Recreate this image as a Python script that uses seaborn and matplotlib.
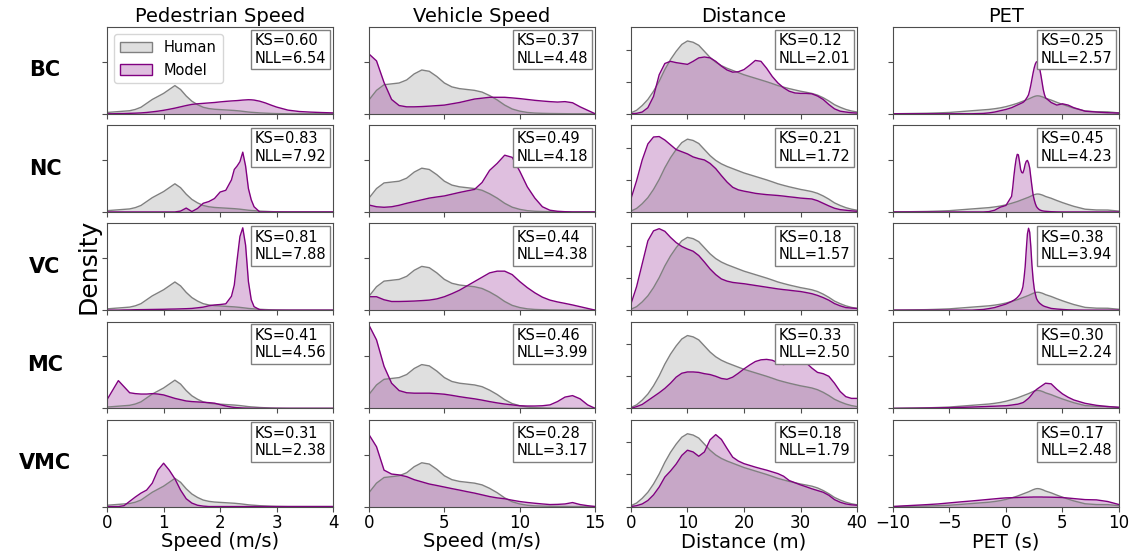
import numpy as np
import matplotlib
matplotlib.use("Agg")
import matplotlib.pyplot as plt
from matplotlib.patches import Patch
from matplotlib.colors import to_rgba
import seaborn as sns

# ---------------- data (densities, in units of the shared column y-range) -------------
ROWS = ["BC", "NC", "VC", "MC", "VMC"]
COLS = ["Pedestrian Speed", "Vehicle Speed", "Distance", "PET"]
XLABELS = ["Speed (m/s)", "Speed (m/s)", "Distance (m)", "PET (s)"]

KS = [[0.60, 0.37, 0.12, 0.25],
      [0.83, 0.49, 0.21, 0.45],
      [0.81, 0.44, 0.18, 0.38],
      [0.41, 0.46, 0.33, 0.30],
      [0.31, 0.28, 0.18, 0.17]]
NLL = [[6.54, 4.48, 2.01, 2.57],
       [7.92, 4.18, 1.72, 4.23],
       [7.88, 4.38, 1.57, 3.94],
       [4.56, 3.99, 2.50, 2.24],
       [2.38, 3.17, 1.79, 2.48]]

# --- Pedestrian speed ---
PED_X = [0.0, 0.1, 0.2, 0.3, 0.4, 0.5, 0.6, 0.7, 0.8, 0.9, 1.0, 1.1, 1.2, 1.3, 1.4, 1.5, 1.6, 1.7, 1.8, 1.9,
         2.0, 2.1, 2.2, 2.25, 2.3, 2.35, 2.4, 2.45, 2.5, 2.55, 2.6, 2.7, 2.8, 2.9, 3.0, 3.2, 3.4, 3.6, 3.8, 4.0]
PED_HUMAN = [0.015, 0.02, 0.025, 0.03, 0.035, 0.05, 0.075, 0.12, 0.165, 0.2, 0.235, 0.28, 0.325, 0.28, 0.205,
             0.145, 0.105, 0.075, 0.06, 0.052, 0.048, 0.044, 0.04, 0.038, 0.035, 0.032, 0.028, 0.024, 0.02,
             0.017, 0.015, 0.01, 0.007, 0.004, 0.002, 0.0, 0.0, 0.0, 0.0, 0.0]
PED_BC = [0.0, 0.0, 0.002, 0.003, 0.005, 0.007, 0.01, 0.015, 0.022, 0.03, 0.04, 0.052, 0.065, 0.08, 0.095,
          0.108, 0.115, 0.12, 0.125, 0.13, 0.137, 0.143, 0.148, 0.15, 0.152, 0.155, 0.158, 0.16, 0.162,
          0.161, 0.158, 0.145, 0.125, 0.1, 0.077, 0.042, 0.026, 0.019, 0.014, 0.01]
PED_NC = [0.0, 0.0, 0.0, 0.0, 0.0, 0.0, 0.0, 0.0, 0.0, 0.0, 0.0, 0.0, 0.0, 0.01, 0.045, 0.005, 0.04, 0.1,
          0.12, 0.155, 0.23, 0.25, 0.37, 0.49, 0.53, 0.58, 0.69, 0.53, 0.27, 0.14, 0.06, 0.0, 0.0, 0.0, 0.0,
          0.0, 0.0, 0.0, 0.0, 0.0]
PED_VC = [0.0, 0.0, 0.0, 0.002, 0.003, 0.005, 0.006, 0.007, 0.008, 0.009, 0.01, 0.012, 0.013, 0.015, 0.017,
          0.02, 0.027, 0.035, 0.05, 0.06, 0.065, 0.073, 0.16, 0.29, 0.58, 0.85, 0.95, 0.75, 0.33, 0.12, 0.04,
          0.005, 0.0, 0.0, 0.0, 0.0, 0.0, 0.0, 0.0, 0.0]
PED_MC = [0.1, 0.21, 0.32, 0.25, 0.18, 0.17, 0.165, 0.165, 0.17, 0.165, 0.155, 0.135, 0.115, 0.1, 0.085,
          0.078, 0.074, 0.07, 0.066, 0.06, 0.043, 0.027, 0.015, 0.011, 0.008, 0.006, 0.004, 0.003, 0.002,
          0.001, 0.001, 0.0, 0.0, 0.0, 0.0, 0.0, 0.0, 0.0, 0.0, 0.0]
PED_VMC = [0.0, 0.0, 0.0, 0.01, 0.06, 0.11, 0.155, 0.19, 0.27, 0.42, 0.5, 0.42, 0.32, 0.19, 0.09, 0.04,
           0.015, 0.005, 0.0, 0.0, 0.0, 0.0, 0.0, 0.0, 0.0, 0.0, 0.0, 0.0, 0.0, 0.0, 0.0, 0.0, 0.0, 0.0,
           0.0, 0.0, 0.0, 0.0, 0.0, 0.0]

# --- Vehicle speed ---
VEH_X = [0.0, 0.5, 1.0, 1.5, 2.0, 2.5, 3.0, 3.5, 4.0, 4.5, 5.0, 5.5, 6.0, 6.5, 7.0, 7.5, 8.0, 8.5, 9.0, 9.5,
         10.0, 10.5, 11.0, 11.5, 12.0, 12.5, 13.0, 13.5, 14.0, 14.5, 15.0]
VEH_HUMAN = [0.16, 0.27, 0.335, 0.345, 0.355, 0.39, 0.46, 0.505, 0.49, 0.43, 0.355, 0.31, 0.29, 0.28, 0.27,
             0.25, 0.21, 0.16, 0.1, 0.055, 0.03, 0.015, 0.008, 0.005, 0.003, 0.002, 0.001, 0.0, 0.0, 0.0, 0.0]
VEH_BC = [0.69, 0.61, 0.36, 0.165, 0.095, 0.08, 0.08, 0.083, 0.088, 0.094, 0.1, 0.115, 0.13, 0.15, 0.17,
          0.18, 0.19, 0.19, 0.19, 0.183, 0.175, 0.165, 0.155, 0.147, 0.14, 0.135, 0.14, 0.127, 0.08, 0.04, 0.0]
VEH_NC = [0.08, 0.06, 0.054, 0.06, 0.077, 0.1, 0.12, 0.14, 0.16, 0.173, 0.185, 0.205, 0.225, 0.243, 0.26,
          0.34, 0.48, 0.56, 0.655, 0.63, 0.47, 0.29, 0.16, 0.06, 0.02, 0.008, 0.003, 0.0, 0.0, 0.0, 0.0]
VEH_VC = [0.155, 0.155, 0.12, 0.1, 0.1, 0.102, 0.105, 0.11, 0.116, 0.13, 0.155, 0.19, 0.23, 0.28, 0.33,
          0.38, 0.43, 0.45, 0.45, 0.41, 0.33, 0.26, 0.2, 0.15, 0.116, 0.095, 0.078, 0.06, 0.04, 0.02, 0.0]
VEH_MC = [0.96, 0.79, 0.485, 0.29, 0.205, 0.18, 0.175, 0.175, 0.175, 0.17, 0.163, 0.15, 0.135, 0.122, 0.11,
          0.095, 0.078, 0.063, 0.05, 0.04, 0.03, 0.027, 0.027, 0.03, 0.04, 0.078, 0.13, 0.147, 0.11, 0.04, 0.0]
VEH_VMC = [0.83, 0.69, 0.42, 0.375, 0.365, 0.345, 0.31, 0.285, 0.26, 0.243, 0.225, 0.207, 0.19, 0.172,
           0.155, 0.135, 0.115, 0.1, 0.09, 0.073, 0.058, 0.047, 0.038, 0.03, 0.023, 0.025, 0.03, 0.046,
           0.023, 0.01, 0.0]

# --- Distance ---
DIST_X = [float(v) for v in range(0, 41)]
DIST_HUMAN = [0.01, 0.04, 0.095, 0.165, 0.26, 0.375, 0.51, 0.625, 0.72, 0.8, 0.84, 0.825, 0.79, 0.72, 0.65,
              0.595, 0.555, 0.525, 0.5, 0.475, 0.45, 0.43, 0.41, 0.39, 0.37, 0.348, 0.325, 0.307, 0.29,
              0.275, 0.26, 0.248, 0.235, 0.215, 0.185, 0.148, 0.105, 0.075, 0.05, 0.032, 0.02]
DIST_BC = [0.0, 0.005, 0.02, 0.07, 0.2, 0.45, 0.58, 0.605, 0.59, 0.58, 0.57, 0.605, 0.645, 0.655, 0.645,
           0.605, 0.55, 0.505, 0.48, 0.485, 0.51, 0.56, 0.615, 0.605, 0.525, 0.43, 0.355, 0.3, 0.26, 0.24,
           0.235, 0.235, 0.23, 0.205, 0.165, 0.107, 0.057, 0.03, 0.02, 0.012, 0.008]
DIST_NC = [0.15, 0.36, 0.6, 0.785, 0.865, 0.87, 0.83, 0.775, 0.72, 0.695, 0.67, 0.635, 0.615, 0.6, 0.56,
           0.5, 0.42, 0.345, 0.285, 0.255, 0.24, 0.228, 0.215, 0.207, 0.2, 0.195, 0.19, 0.183, 0.175,
           0.168, 0.16, 0.155, 0.15, 0.13, 0.1, 0.07, 0.043, 0.027, 0.02, 0.013, 0.008]
DIST_VC = [0.07, 0.27, 0.535, 0.8, 0.915, 0.94, 0.91, 0.84, 0.78, 0.735, 0.705, 0.68, 0.63, 0.555, 0.475,
           0.41, 0.36, 0.335, 0.32, 0.312, 0.305, 0.295, 0.285, 0.275, 0.265, 0.255, 0.245, 0.237, 0.23,
           0.222, 0.215, 0.203, 0.19, 0.17, 0.145, 0.115, 0.076, 0.05, 0.03, 0.024, 0.02]
DIST_MC = [0.0, 0.02, 0.045, 0.09, 0.135, 0.18, 0.23, 0.29, 0.36, 0.405, 0.42, 0.42, 0.415, 0.4, 0.39, 0.37,
           0.345, 0.335, 0.36, 0.405, 0.455, 0.5, 0.54, 0.56, 0.565, 0.555, 0.525, 0.505, 0.525, 0.55,
           0.555, 0.525, 0.465, 0.415, 0.4, 0.37, 0.29, 0.195, 0.135, 0.115, 0.115]
DIST_VMC = [0.0, 0.01, 0.03, 0.07, 0.135, 0.225, 0.34, 0.41, 0.49, 0.59, 0.65, 0.63, 0.58, 0.63, 0.77, 0.83,
            0.775, 0.67, 0.57, 0.525, 0.495, 0.475, 0.455, 0.437, 0.42, 0.4, 0.38, 0.35, 0.3, 0.275, 0.25,
            0.228, 0.205, 0.185, 0.165, 0.13, 0.08, 0.05, 0.03, 0.02, 0.015]

# --- PET ---
PET_X = [-10.0, -9.0, -8.0, -7.0, -6.0, -5.0, -4.0, -3.0, -2.0, -1.5, -1.0, -0.5, 0.0,
         0.5, 0.6, 0.7, 0.8, 0.9, 1.0, 1.1, 1.2, 1.3, 1.4, 1.5, 1.6, 1.7, 1.8, 1.9, 2.0, 2.1, 2.2, 2.3,
         2.4, 2.5, 2.6, 2.7, 2.8, 2.9, 3.0, 3.1, 3.2, 3.3, 3.4, 3.5,
         4.0, 4.5, 5.0, 5.5, 6.0, 7.0, 8.0, 9.0, 10.0]
PET_HUMAN = [0.0, 0.002, 0.004, 0.006, 0.01, 0.015, 0.025, 0.035, 0.045, 0.05, 0.058, 0.068, 0.082,
             0.1, 0.104, 0.108, 0.112, 0.116, 0.12, 0.125, 0.13, 0.135, 0.14, 0.145, 0.15, 0.155, 0.16,
             0.165, 0.17, 0.176, 0.182, 0.188, 0.194, 0.199, 0.203, 0.206, 0.207, 0.206, 0.204, 0.2,
             0.196, 0.191, 0.185, 0.179,
             0.158, 0.132, 0.108, 0.086, 0.065, 0.032, 0.023, 0.022, 0.01]
PET_BC = [0.0, 0.0, 0.0, 0.0, 0.0, 0.0, 0.0, 0.0, 0.004, 0.01, 0.02, 0.035, 0.05,
          0.07, 0.076, 0.082, 0.088, 0.094, 0.1, 0.106, 0.112, 0.118, 0.124, 0.13, 0.14, 0.155, 0.175,
          0.195, 0.22, 0.27, 0.33, 0.4, 0.47, 0.53, 0.575, 0.6, 0.595, 0.57, 0.51, 0.44, 0.36, 0.28,
          0.225, 0.185,
          0.13, 0.1, 0.115, 0.1, 0.07, 0.03, 0.02, 0.012, 0.008]
PET_NC = [0.0, 0.0, 0.0, 0.0, 0.0, 0.0, 0.0, 0.0, 0.0, 0.004, 0.02, 0.055, 0.075,
          0.18, 0.28, 0.41, 0.52, 0.61, 0.665, 0.66, 0.58, 0.49, 0.455, 0.45, 0.49, 0.55, 0.585, 0.595,
          0.565, 0.51, 0.4, 0.295, 0.2, 0.14, 0.095, 0.062, 0.045, 0.032, 0.023, 0.018, 0.014, 0.011,
          0.009, 0.008,
          0.003, 0.001, 0.0, 0.0, 0.0, 0.0, 0.0, 0.0, 0.0]
PET_VC = [0.0, 0.0, 0.0, 0.0, 0.0, 0.0, 0.0, 0.0, 0.008, 0.018, 0.03, 0.05, 0.07,
          0.1, 0.108, 0.115, 0.124, 0.134, 0.145, 0.16, 0.175, 0.195, 0.225, 0.27, 0.37, 0.5, 0.7, 0.88,
          0.945, 0.9, 0.735, 0.52, 0.36, 0.25, 0.185, 0.135, 0.11, 0.092, 0.078, 0.068, 0.058, 0.05,
          0.044, 0.04,
          0.02, 0.013, 0.008, 0.004, 0.002, 0.0, 0.0, 0.0, 0.0]
PET_MC = [0.0, 0.001, 0.002, 0.004, 0.006, 0.008, 0.011, 0.015, 0.02, 0.023, 0.025, 0.028, 0.03,
          0.038, 0.04, 0.042, 0.044, 0.046, 0.047, 0.05, 0.054, 0.058, 0.062, 0.066, 0.074, 0.084, 0.095,
          0.105, 0.116, 0.13, 0.146, 0.162, 0.179, 0.195, 0.206, 0.217, 0.227, 0.236, 0.245, 0.254,
          0.263, 0.272, 0.281, 0.29,
          0.283, 0.22, 0.167, 0.128, 0.097, 0.058, 0.035, 0.02, 0.012]
PET_VMC = [0.0, 0.008, 0.015, 0.022, 0.03, 0.042, 0.054, 0.065, 0.077, 0.083, 0.089, 0.095, 0.1,
           0.102, 0.102, 0.103, 0.103, 0.104, 0.104, 0.105, 0.105, 0.106, 0.106, 0.107, 0.107, 0.107,
           0.108, 0.108, 0.108, 0.109, 0.109, 0.109, 0.11, 0.11, 0.11, 0.11, 0.11, 0.11, 0.11, 0.11,
           0.11, 0.109, 0.109, 0.109,
           0.108, 0.106, 0.104, 0.098, 0.092, 0.08, 0.077, 0.058, 0.023]

GRIDS = [PED_X, VEH_X, DIST_X, PET_X]
HUMAN = [PED_HUMAN, VEH_HUMAN, DIST_HUMAN, PET_HUMAN]
MODEL = [[PED_BC, VEH_BC, DIST_BC, PET_BC],
         [PED_NC, VEH_NC, DIST_NC, PET_NC],
         [PED_VC, VEH_VC, DIST_VC, PET_VC],
         [PED_MC, VEH_MC, DIST_MC, PET_MC],
         [PED_VMC, VEH_VMC, DIST_VMC, PET_VMC]]

# ---------------- style ----------------
XLIMS = [(0, 4), (0, 15), (0, 40), (-10, 10)]
XTICKS = [[0, 1, 2, 3, 4], [0, 5, 10, 15], [0, 10, 20, 30, 40], [-10, -5, 0, 5, 10]]
YTICKS = [[0, 0.6], [0, 0.6], [0, 0.37, 0.74], [0, 0.6]]
HUMAN_C = "gray"
MODEL_C = "purple"
ALPHA = 0.25

plt.rcParams["font.family"] = ["DejaVu Sans"]
plt.rcParams["axes.edgecolor"] = "0.3"

fig, axes = plt.subplots(5, 4, figsize=(11.34, 5.53), dpi=100, sharex="col", sharey="col")
fig.subplots_adjust(left=0.0944, right=0.9868, top=0.951, bottom=0.084, wspace=0.158, hspace=0.133)

for r in range(5):
    for c in range(4):
        ax = axes[r, c]
        x = np.asarray(GRIDS[c])
        h = np.asarray(HUMAN[c])
        m = np.asarray(MODEL[r][c])
        ax.fill_between(x, h, color=to_rgba(HUMAN_C, ALPHA), linewidth=0)
        sns.lineplot(x=x, y=h, ax=ax, color=HUMAN_C, linewidth=1.0)
        ax.fill_between(x, m, color=to_rgba(MODEL_C, ALPHA), linewidth=0)
        sns.lineplot(x=x, y=m, ax=ax, color=MODEL_C, linewidth=1.0)
        ax.set_xlim(*XLIMS[c])
        ax.set_ylim(0, 1)
        ax.set_xticks(XTICKS[c])
        ax.set_yticks(YTICKS[c])
        ax.tick_params(axis="y", labelleft=False, direction="out", length=3.5, width=0.8, color="0.3")
        ax.tick_params(axis="x", direction="out", length=3.5, width=0.8, labelsize=12, pad=2,
                       color="0.3", labelcolor="black")
        ax.set_ylabel("")
        ax.set_xlabel("")
        ax.text(0.97, 0.93, f"KS={KS[r][c]:.2f}\nNLL={NLL[r][c]:.2f}", transform=ax.transAxes,
                ha="right", va="top", multialignment="left", fontsize=10.5,
                bbox=dict(boxstyle="square,pad=0.25", facecolor="white", edgecolor="gray", linewidth=1.0))
        if r == 0:
            ax.set_title(COLS[c], fontsize=14, pad=4)
        if r == 4:
            ax.set_xlabel(XLABELS[c], fontsize=14, labelpad=0)
        if c == 0:
            ax.text(-0.274, 0.5, ROWS[r], transform=ax.transAxes, fontsize=15, fontweight="bold",
                    ha="center", va="center", color="black")

axes[2, 0].set_ylabel("Density", fontsize=18, labelpad=1)

handles = [Patch(facecolor=to_rgba(HUMAN_C, ALPHA), edgecolor=HUMAN_C, linewidth=1.0),
           Patch(facecolor=to_rgba(MODEL_C, ALPHA), edgecolor=MODEL_C, linewidth=1.0)]
axes[0, 0].legend(handles, ["Human", "Model"], loc="upper left", fontsize=10.5, handlelength=2.2)

fig.savefig("out.png", dpi=100)
